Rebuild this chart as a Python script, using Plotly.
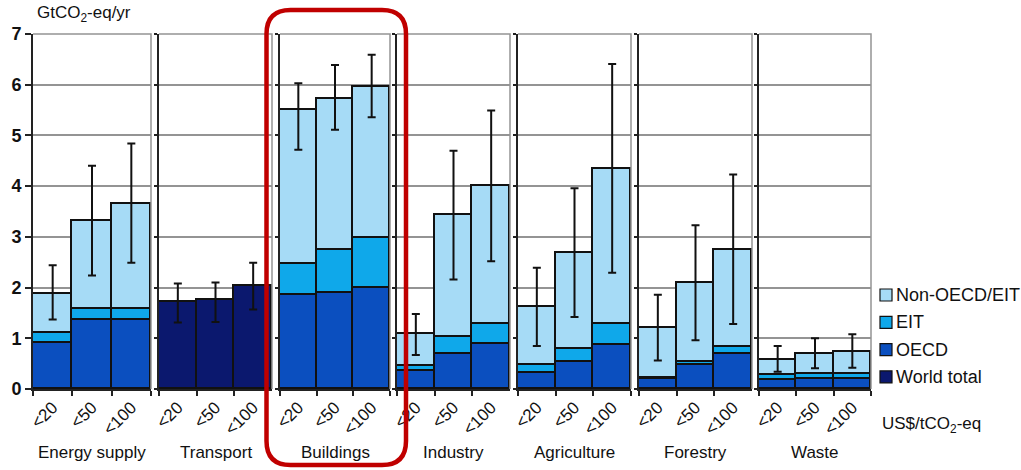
import plotly.graph_objects as go
from plotly.subplots import make_subplots

# Economic mitigation potential by sector in 2030, GtCO2-eq/yr
sectors = ["Energy supply", "Transport", "Buildings", "Industry",
           "Agriculture", "Forestry", "Waste"]
price_caps = ["<20", "<50", "<100"]  # carbon price, US$/tCO2-eq

# Regional split per sector (None where only a world total is available)
oecd = [[0.91, 1.36, 1.36], None, [1.85, 1.90, 2.00], [0.35, 0.69, 0.88],
        [0.32, 0.54, 0.87], [0.19, 0.47, 0.69], [0.18, 0.19, 0.19]]
eit = [[0.19, 0.21, 0.21], None, [0.62, 0.84, 0.98], [0.10, 0.33, 0.40],
       [0.15, 0.24, 0.42], [0.03, 0.07, 0.14], [0.10, 0.11, 0.11]]
non_oecd_eit = [[0.78, 1.74, 2.08], None, [3.03, 2.98, 2.98], [0.63, 2.41, 2.72],
                [1.15, 1.90, 3.04], [0.99, 1.55, 1.92], [0.30, 0.40, 0.43]]
world_total = [None, [1.72, 1.75, 2.03], None, None, None, None, None]

# Uncertainty ranges of the sector totals
range_low = [[1.37, 2.24, 2.49], [1.31, 1.32, 1.57], [4.72, 5.11, 5.36],
             [0.67, 2.16, 2.52], [0.85, 1.42, 2.29], [0.56, 0.96, 1.28],
             [0.34, 0.41, 0.42]]
range_high = [[2.44, 4.40, 4.84], [2.08, 2.10, 2.49], [6.03, 6.39, 6.59],
              [1.48, 4.70, 5.49], [2.39, 3.96, 6.41], [1.86, 3.23, 4.23],
              [0.85, 1.00, 1.08]]

legend_names = ["Non-OECD/EIT", "EIT", "OECD", "World total"]
colors = {"Non-OECD/EIT": "#a6dbf6", "EIT": "#0fa8ea",
          "OECD": "#0b4fbf", "World total": "#0b186e"}

FONT = "Liberation Sans, Arial, sans-serif"
W, H = 1021, 470
ML, MR, MT, MB = 33, 150, 34, 81
PW, PH = W - ML - MR, H - MT - MB

# Horizontal extent of each sector panel, in pixels of the figure
panel_px = [(33, 151), (159, 272), (280, 390), (397, 510),
            (518, 631), (639, 752), (759, 871)]

fig = make_subplots(rows=1, cols=len(sectors), shared_yaxes=True,
                    horizontal_spacing=7.5 / PW)

outline = dict(color="#111111", width=1.8)
for i, name in enumerate(sectors):
    col = i + 1
    if world_total[i] is not None:
        totals = world_total[i]
        fig.add_trace(go.Bar(x=price_caps, y=world_total[i], name="World total",
                             marker=dict(color=colors["World total"], line=outline),
                             showlegend=False), row=1, col=col)
    else:
        for label, vals in (("OECD", oecd[i]), ("EIT", eit[i]),
                            ("Non-OECD/EIT", non_oecd_eit[i])):
            fig.add_trace(go.Bar(x=price_caps, y=vals, name=label,
                                 marker=dict(color=colors[label], line=outline),
                                 showlegend=False), row=1, col=col)
        totals = [a + b + c for a, b, c in zip(oecd[i], eit[i], non_oecd_eit[i])]
    fig.add_trace(go.Scatter(
        x=price_caps, y=totals, mode="markers",
        marker=dict(size=1, opacity=0), showlegend=False, hoverinfo="skip",
        error_y=dict(type="data", symmetric=False,
                     array=[h - t for h, t in zip(range_high[i], totals)],
                     arrayminus=[t - l for t, l in zip(totals, range_low[i])],
                     color="#111111", thickness=2, width=4)),
        row=1, col=col)

fig.update_layout(
    width=W, height=H, barmode="stack", bargap=0,
    margin=dict(l=ML, r=MR, t=MT, b=MB, autoexpand=False),
    plot_bgcolor="white", paper_bgcolor="white",
    font=dict(family=FONT, color="#111111"),
)

fig.update_xaxes(type="category", showline=True, linecolor="#222222", linewidth=2,
                 ticks="outside", tickson="boundaries", ticklen=5, tickwidth=1.5,
                 tickcolor="#222222", tickangle=-45, showgrid=False,
                 tickfont=dict(size=17, family=FONT, color="#111111"),
                 range=[-0.5, 2.5], fixedrange=True)
fig.update_yaxes(range=[0, 7], dtick=1, showline=True, linecolor="#222222",
                 linewidth=2, showgrid=True, gridcolor="#949494", gridwidth=1.5,
                 zeroline=False, ticks="outside", ticklen=3, tickwidth=1.5,
                 tickcolor="#222222", fixedrange=True)
fig.update_yaxes(ticklen=6, tickfont=dict(size=18, family=FONT, weight="bold",
                                          color="#111111"), row=1, col=1)

# Panel placement, grey frame on top and right, sector names beneath
for i, name in enumerate(sectors):
    sfx = "" if i == 0 else str(i + 1)
    p0, p1 = panel_px[i]
    fig.layout[f"xaxis{sfx}"].domain = [(p0 - ML) / PW, (p1 - ML) / PW]
    frame = dict(type="path", xref=f"x{sfx} domain", yref=f"y{sfx} domain",
                 path="M0,1 L1,1 L1,0", line=dict(color="#949494", width=1.5),
                 layer="above")
    fig.add_shape(**frame)
    fig.add_annotation(text=name, xref=f"x{sfx} domain", yref="paper",
                       x=0.5, y=-63 / PH, yanchor="middle",
                       showarrow=False, font=dict(size=17, family=FONT, color="#111111"))

# Units
fig.add_annotation(text="GtCO<sub>2</sub>-eq/yr", xref="paper", yref="paper",
                   x=2 / PW, y=1 + 20 / PH, xanchor="left", yanchor="middle",
                   showarrow=False, font=dict(size=17, family=FONT, color="#111111"))
fig.add_annotation(text="US$/tCO<sub>2</sub>-eq", xref="paper", yref="paper",
                   x=(880 - ML) / PW, y=-36 / PH, xanchor="left", yanchor="middle",
                   showarrow=False, font=dict(size=17, family=FONT, color="#111111"))

# Legend: swatches and labels
for k, label in enumerate(legend_names):
    cy = 1 - (295 + 27.3 * k - MT) / PH
    x0 = (880 - ML) / PW
    fig.add_shape(type="rect", xref="paper", yref="paper",
                  x0=x0, x1=x0 + 12 / PW, y0=cy - 6 / PH, y1=cy + 6 / PH,
                  fillcolor=colors[label], line=dict(color="#111111", width=1.2))
    fig.add_annotation(text=label, xref="paper", yref="paper",
                       x=x0 + 14 / PW, y=cy, xanchor="left", yanchor="middle",
                       showarrow=False, font=dict(size=18, family=FONT, color="#111111"))

# Rounded highlight around the Buildings panel
d0, d1 = fig.layout.xaxis3.domain
bx0 = d0 - 13.5 / PW
bx1 = d1 + 16 / PW
by1 = 1 + 24 / PH
by0 = -76 / PH
rx, ry = 24 / PW, 24 / PH
path = (f"M{bx0 + rx},{by1} L{bx1 - rx},{by1} Q{bx1},{by1} {bx1},{by1 - ry} "
        f"L{bx1},{by0 + ry} Q{bx1},{by0} {bx1 - rx},{by0} "
        f"L{bx0 + rx},{by0} Q{bx0},{by0} {bx0},{by0 + ry} "
        f"L{bx0},{by1 - ry} Q{bx0},{by1} {bx0 + rx},{by1} Z")
fig.add_shape(type="path", xref="paper", yref="paper", path=path,
              line=dict(color="#c00000", width=4.5), layer="above")

fig.write_html("out.html")
